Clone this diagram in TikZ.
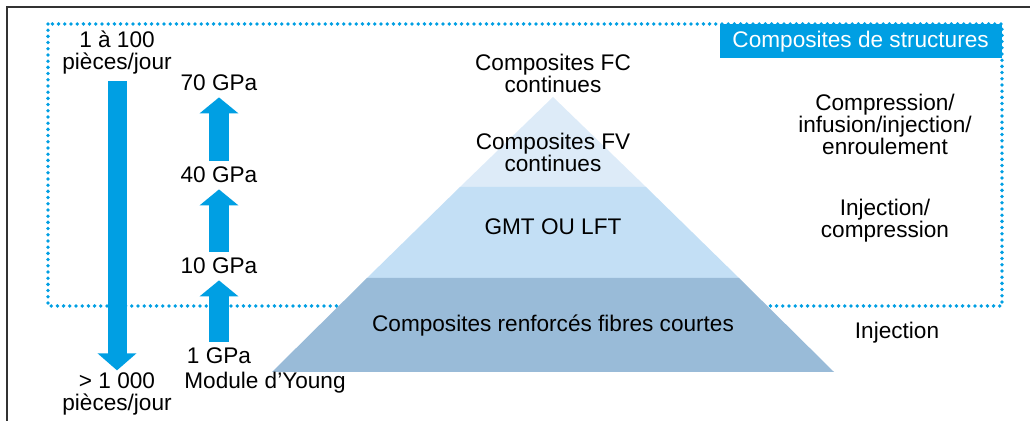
\documentclass[tikz,border=0pt]{standalone}
\usepackage{fontspec}
\setmainfont{Liberation Sans}
\usetikzlibrary{arrows.meta}
\definecolor{cyanblue}{RGB}{0,159,227}
\definecolor{toplayer}{RGB}{221,235,248}
\definecolor{midlayer}{RGB}{195,223,245}
\definecolor{baselayer}{RGB}{153,187,216}
\tikzstyle{txt} = [align=center, inner sep=0pt, font=\fontsize{11.3}{11}\selectfont]
\tikzstyle{downarrow} = [line width=9.5pt, draw=cyanblue, -{Triangle[width=19pt,length=8.5pt]}]
\tikzstyle{uparrow} = [line width=10pt, draw=cyanblue, -{Triangle[width=19pt,length=8pt]}]
\tikzstyle{zone} = [draw=cyanblue, line width=1.9pt, line cap=round, dash pattern=on 0pt off 3.1pt]

\begin{document}
\begin{tikzpicture}[x=0.5pt, y=-0.5pt]
\useasboundingbox (0,0) rectangle (1030,421);

% Frame
\draw [line width=1pt, black!80] (7,421) -- (7,7) -- (1030,7);

% Structural composites zone
\draw [zone] (48,24) rectangle (1002,306);
\node (title) [txt, anchor=north east, fill=cyanblue, text=white, minimum width=141pt, minimum height=17pt] at (1002,24) {Composites de structures};

% Pyramid
\fill [toplayer] (553,97) -- (460,187) -- (646,187) -- cycle;
\fill [midlayer] (460,187) -- (367,278) -- (739,278) -- (646,187) -- cycle;
\fill [baselayer] (367,278) -- (272,372) -- (834,372) -- (739,278) -- cycle;

% Materials
\node (fc) [txt] at (553,73) {Composites FC\\continues};
\node (fv) [txt] at (553,152) {Composites FV\\continues};
\node (gmt) [txt] at (553,227) {GMT OU LFT};
\node (rfc) [txt] at (553,326) {Composites renforcés fibres courtes};

% Processes
\node (p1) [txt] at (885,124) {Compression/\\infusion/injection/\\enroulement};
\node (p2) [txt] at (885,221) {Injection/\\compression};
\node (p3) [txt] at (897,333) {Injection};

% Production rate
\node (lot1) [txt] at (117,53) {1 à 100\\pièces/jour};
\node (lot2) [txt] at (117,394) {> 1 000\\pièces/jour};

% Young's modulus
\node (g70) [txt] at (219,83) {70 GPa};
\node (g40) [txt] at (219,175) {40 GPa};
\node (g10) [txt] at (219,266) {10 GPa};
\node (g1) [txt] at (219,356) {1 GPa};
\node (young) [txt] at (265,383) {Module d’Young};

% Arrows
\draw [downarrow, shorten <=3pt, shorten >=1pt] (lot1.south) -- (lot2.north);
\draw [uparrow, shorten <=3pt, shorten >=3pt] (g1.north) -- (g10.south);
\draw [uparrow, shorten <=3pt, shorten >=3pt] (g10.north) -- (g40.south);
\draw [uparrow, shorten <=3pt, shorten >=3pt] (g40.north) -- (g70.south);

\end{tikzpicture}
\end{document}
